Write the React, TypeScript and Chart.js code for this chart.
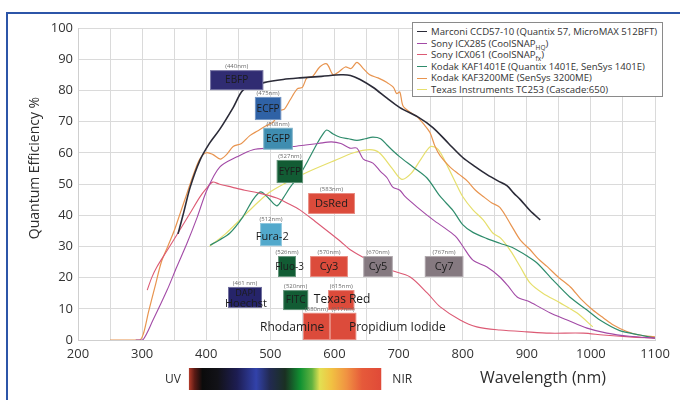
import React, { useEffect, useRef } from 'react';
import { Chart, registerables } from 'chart.js';

Chart.register(...registerables);

// ---------- data (wavelength in nm, quantum efficiency in %) ----------
const X_MIN = 200;
const X_MAX = 1100;
const Y_MIN = 0;
const Y_MAX = 100;

const MARCONI_NM = [356, 365, 375, 390, 405, 421, 442, 457, 475, 490, 520, 546, 580, 610, 625, 640, 660, 682, 702, 730, 754, 778, 800, 820, 838, 855, 869, 880, 890, 905, 921];
const MARCONI_QE = [34, 41, 49, 57.5, 63, 67.5, 74.5, 80, 81.5, 82.5, 83.5, 84, 84.5, 85, 84.8, 83.5, 81, 77.5, 74.5, 71.5, 68, 63, 58.5, 55.5, 53, 51, 49.5, 47, 45, 41.5, 38.5];

const ICX285_NM = [290, 301, 317, 339, 354, 370, 386, 401, 421, 448, 473, 500, 535, 555, 575, 595, 610, 624, 635, 645, 660, 672, 682, 691, 702, 710, 729, 754, 776, 790, 801, 816, 838, 858, 872, 885, 905, 936, 963, 994, 1025, 1060, 1100];
const ICX285_QE = [0, 0, 6.4, 16, 23.4, 31, 39.4, 48, 55.4, 58.7, 61, 61.5, 62, 62.5, 63, 63.5, 63, 61.5, 61.5, 58, 56.7, 54, 52, 49, 48, 46, 42.6, 38.5, 35.3, 33, 29.8, 25.6, 23.4, 20.2, 17, 13.8, 12.2, 8.7, 6.4, 3.8, 2.2, 1.2, 0.6];

const ICX061_NM = [308, 315, 323, 340, 355, 375, 390, 400, 410, 420, 440, 460, 484, 510, 530, 546, 570, 593, 610, 624, 645, 660, 687, 718, 745, 765, 796, 822, 858, 900, 936, 988, 1019, 1060, 1100];
const ICX061_QE = [16, 20, 23.4, 29, 34, 40.7, 45.8, 48.5, 50.6, 50, 49, 48, 47, 45.5, 43.5, 41.7, 38, 34.3, 31.5, 29, 26.5, 25, 22.4, 20.2, 15, 10.6, 6.4, 4.2, 3.2, 2.6, 2.2, 2.2, 1.6, 1, 0.6];

const KAF1401_NM = [406, 420, 437, 457, 473, 485, 497, 510, 520, 531, 546, 560, 573, 582, 588, 598, 609, 622, 635, 648, 660, 672, 682, 692, 702, 723, 744, 765, 785, 800, 816, 838, 858, 879, 900, 916, 941, 967, 994, 1014, 1045, 1077, 1100];
const KAF1401_QE = [30.4, 32, 34.3, 39.4, 45, 47.5, 45.5, 43, 45.5, 49, 53, 58, 63, 66, 67.3, 66, 65, 64.5, 64, 64.5, 65, 64.5, 62.5, 60.5, 58.7, 55.4, 52, 46, 41.5, 37, 34.5, 32.5, 31, 29.5, 27, 24.7, 19.2, 13.8, 9.6, 6.4, 3, 1.6, 0.6];

const KAF3200_NM = [250, 296, 302, 310, 320, 330, 340, 350, 360, 370, 380, 390, 400, 410, 422, 432, 442, 455, 468, 480, 492, 505, 515, 522, 531, 542, 550, 557, 566, 577, 588, 598, 607, 617, 626, 635, 645, 655, 668, 682, 692, 697, 702, 707, 718, 729, 740, 749, 757, 765, 780, 795, 807, 820, 832, 845, 858, 875, 890, 905, 918, 932, 950, 968, 985, 1003, 1020, 1035, 1055, 1075, 1100];
const KAF3200_QE = [0, 0, 2, 9, 17, 25, 30, 35, 41, 47, 53, 58, 60, 59.5, 58, 59.5, 62, 63, 65.5, 67, 68.5, 70, 73.5, 74, 77, 80.5, 81, 84, 84.5, 87.5, 88.5, 85, 86, 87.5, 87, 89, 87, 85, 84, 82.5, 81, 79, 79.5, 75, 73, 71.5, 69, 66.5, 62, 59, 55.5, 53, 51, 48, 46, 44, 42.5, 37, 32, 29, 26, 23.5, 20, 17, 13, 9.6, 7, 4.8, 2.8, 1.6, 1];

const TC253_NM = [405, 430, 455, 480, 500, 530, 560, 600, 630, 655, 670, 690, 705, 720, 735, 750, 762, 778, 790, 800, 816, 832, 847, 860, 875, 890, 905, 925, 952, 978, 1003];
const TC253_QE = [30, 34, 39, 44, 47.5, 51, 54, 57.5, 60, 61, 60, 55, 51.5, 53.5, 58, 62, 61, 55, 50, 46, 41.7, 38.5, 34.3, 32.5, 28.5, 23.4, 18.3, 15, 11.9, 8.7, 4.2];

const SERIES_NAMES = [
  'Marconi CCD57-10 (Quantix 57, MicroMAX 512BFT)',
  'Sony ICX285 (CoolSNAP_HQ)',
  'Sony ICX061 (CoolSNAP_fx)',
  'Kodak KAF1401E (Quantix 1401E, SenSys 1401E)',
  'Kodak KAF3200ME (SenSys 3200ME)',
  'Texas Instruments TC253 (Cascade:650)',
];

// fluorophore annotation labels (emission wavelengths)
const FLUOR_NAMES = ['EBFP', 'ECFP', 'EGFP', 'EYFP', 'DsRed', 'Fura-2', 'Fluo-3', 'Cy3', 'Cy5', 'Cy7', 'DAPI', 'FITC', 'Texas Red', 'Rhodamine', 'Propidium Iodide'];
const FLUOR_TAGS = ['(440nm)', '(475nm)', '(508nm)', '(527nm)', '(583nm)', '(512nm)', '(526nm)', '(570nm)', '(670nm)', '(767nm)', '(461 nm)', '(520nm)', '(615nm)', '(580nm)', '(617nm)'];

// ---------- styling / annotation placement (data-space) ----------
const SERIES_STYLE = [
  { color: '#2b2b38', width: 1.6 },
  { color: '#a24aa6', width: 1.1 },
  { color: '#dc5a74', width: 1.1 },
  { color: '#2f8c6c', width: 1.2 },
  { color: '#e8944f', width: 1.2 },
  { color: '#e6df6c', width: 1.2 },
];

// box extents in data units: [nm0, nm1, qe0, qe1], colour, text anchor [nm, qe], font size
const FLUOR_LAYOUT = [
  { box: [406, 489, 80.1, 86.5], color: '#302c72', text: null, size: 10 },
  { box: [476, 517, 70.5, 77.9], color: '#2f62a6', text: null, size: 10 },
  { box: [489, 535, 61, 68], color: '#3f8db0', text: null, size: 10 },
  { box: [510, 551, 50.3, 57.7], color: '#125c34', text: null, size: 10 },
  { box: [559, 632, 40.4, 47.1], color: '#dc4b3b', text: null, size: 11 },
  { box: [484, 518, 30.1, 37.5], color: '#52a9cc', text: [503, 33.3], size: 11 },
  { box: [512, 540, 20.2, 26.9], color: '#125c34', text: [530, 23.6], size: 10 },
  { box: [562, 621, 20.2, 26.9], color: '#dc4b3b', text: null, size: 11 },
  { box: [645, 691, 20.2, 26.9], color: '#857980', text: null, size: 11 },
  { box: [741, 801, 20.2, 26.9], color: '#857980', text: null, size: 11 },
  { box: [434, 487, 10.3, 17], color: '#26246a', text: [461, 15.2], size: 9 },
  { box: [520, 559, 9.6, 16], color: '#125c34', text: null, size: 10 },
  { box: [590, 631, 9.6, 16], color: '#dc4b3b', text: [612, 13.1], size: 12 },
  { box: [551, 593, 0, 8.7], color: '#dc4b3b', text: [534, 4.2], size: 12 },
  { box: [593, 634, 0, 8.7], color: '#dc4b3b', text: [698, 4.2], size: 12 },
];
const EXTRA_TEXT = [{ label: 'Hoechst', at: [462, 11.5], size: 11 }];

const SPECTRUM_RANGE = [373, 673];
const SPECTRUM_STOPS: [number, string][] = [
  [0, '#b43c2a'], [0.03, '#5a1a14'], [0.07, '#0b0b0b'], [0.15, '#121218'], [0.25, '#1d1d52'],
  [0.35, '#3242aa'], [0.42, '#222a52'], [0.5, '#1a3022'], [0.58, '#119232'], [0.64, '#62b240'],
  [0.68, '#e2e052'], [0.74, '#f1c242'], [0.82, '#f09242'], [0.9, '#e65a3a'], [1, '#e04a38'],
];

const FONT = "'Open Sans', 'DejaVu Sans', sans-serif";

function zip(xs: number[], ys: number[]) {
  const n = Math.min(xs.length, ys.length);
  const out: { x: number; y: number }[] = [];
  for (let i = 0; i < n; i++) out.push({ x: xs[i], y: ys[i] });
  return out;
}

const decorPlugin = {
  id: 'decor',
  beforeDraw(chart: any) {
    const { ctx, width, height } = chart;
    ctx.save();
    ctx.fillStyle = '#ffffff';
    ctx.fillRect(0, 0, width, height);
    ctx.strokeStyle = '#2c55a8';
    ctx.lineWidth = 2;
    ctx.beginPath();
    ctx.moveTo(7, height);
    ctx.lineTo(7, 13);
    ctx.lineTo(width, 13);
    ctx.stroke();
    ctx.restore();
  },
  afterDatasetsDraw(chart: any) {
    const { ctx } = chart;
    const xs = chart.scales.x;
    const ys = chart.scales.y;
    ctx.save();
    FLUOR_LAYOUT.forEach((f, i) => {
      const [n0, n1, q0, q1] = f.box;
      const x0 = xs.getPixelForValue(n0);
      const x1 = xs.getPixelForValue(n1);
      const yT = ys.getPixelForValue(q1);
      const yB = ys.getPixelForValue(q0);
      ctx.fillStyle = f.color;
      ctx.fillRect(x0, yT, x1 - x0, yB - yT);
      ctx.strokeStyle = 'rgba(255,255,255,0.35)';
      ctx.lineWidth = 1;
      ctx.strokeRect(x0 + 0.5, yT + 0.5, x1 - x0 - 1, yB - yT - 1);
      ctx.fillStyle = '#6a6a6a';
      ctx.font = `6px ${FONT}`;
      ctx.textAlign = 'center';
      ctx.textBaseline = 'bottom';
      ctx.fillText(FLUOR_TAGS[i], (x0 + x1) / 2, yT - 1);
      const tx = f.text ? xs.getPixelForValue(f.text[0]) : (x0 + x1) / 2;
      const ty = f.text ? ys.getPixelForValue(f.text[1]) : (yT + yB) / 2;
      ctx.fillStyle = '#1c1c1c';
      ctx.font = `${f.size}px ${FONT}`;
      ctx.textBaseline = 'middle';
      ctx.fillText(FLUOR_NAMES[i], tx, ty + 0.5);
    });
    EXTRA_TEXT.forEach((t) => {
      ctx.fillStyle = '#1c1c1c';
      ctx.font = `${t.size}px ${FONT}`;
      ctx.textAlign = 'center';
      ctx.textBaseline = 'middle';
      ctx.fillText(t.label, xs.getPixelForValue(t.at[0]), ys.getPixelForValue(t.at[1]));
    });
    ctx.restore();
  },
  afterDraw(chart: any) {
    const { ctx } = chart;
    const xs = chart.scales.x;
    ctx.save();
    // y title
    ctx.translate(35, 168);
    ctx.rotate(-Math.PI / 2);
    ctx.fillStyle = '#2e2e2e';
    ctx.font = `14px ${FONT}`;
    ctx.textAlign = 'center';
    ctx.textBaseline = 'middle';
    ctx.fillText('Quantum Efficiency %', 0, 0);
    ctx.restore();

    ctx.save();
    const bx0 = xs.getPixelForValue(SPECTRUM_RANGE[0]);
    const bx1 = xs.getPixelForValue(SPECTRUM_RANGE[1]);
    const g = ctx.createLinearGradient(bx0, 0, bx1, 0);
    SPECTRUM_STOPS.forEach(([p, c]) => g.addColorStop(p, c));
    ctx.fillStyle = g;
    ctx.fillRect(bx0, 368, bx1 - bx0, 22);
    ctx.fillStyle = '#2e2e2e';
    ctx.font = `12px ${FONT}`;
    ctx.textAlign = 'center';
    ctx.textBaseline = 'middle';
    ctx.fillText('UV', bx0 - 16, 380);
    ctx.fillText('NIR', bx1 + 21, 380);
    ctx.font = `16px ${FONT}`;
    ctx.fillText('Wavelength (nm)', 543, 378);
    ctx.restore();
  },
};

function Legend() {
  const sub = (name: string) => {
    const m = name.match(/^(.*)_([A-Za-z]+)(\).*)$/);
    if (!m) return name;
    return (
      <>
        {m[1]}
        <sub style={{ fontSize: '6.5px', verticalAlign: 'sub', lineHeight: 0 }}>{m[2]}</sub>
        {m[3]}
      </>
    );
  };
  return (
    <div
      style={{
        position: 'absolute',
        left: 412,
        top: 22,
        width: 251,
        height: 75,
        border: '1px solid #8a8a8a',
        background: '#ffffff',
        boxSizing: 'border-box',
        paddingTop: 3,
        fontFamily: FONT,
        fontSize: '9.6px',
        color: '#333',
        lineHeight: '11.6px',
        overflow: 'hidden',
      }}
    >
      {SERIES_NAMES.map((name, i) => (
        <div key={i} style={{ display: 'flex', alignItems: 'center', height: 11.6, whiteSpace: 'nowrap' }}>
          <span
            style={{
              display: 'inline-block',
              width: 10,
              height: 0,
              borderTop: `1.5px solid ${SERIES_STYLE[i].color}`,
              marginLeft: 4,
              marginRight: 4,
              flex: 'none',
            }}
          />
          <span>{sub(name)}</span>
        </div>
      ))}
    </div>
  );
}

export default function App() {
  const ref = useRef<HTMLCanvasElement>(null);
  useEffect(() => {
    if (!ref.current) return;
    const series = [
      zip(MARCONI_NM, MARCONI_QE),
      zip(ICX285_NM, ICX285_QE),
      zip(ICX061_NM, ICX061_QE),
      zip(KAF1401_NM, KAF1401_QE),
      zip(KAF3200_NM, KAF3200_QE),
      zip(TC253_NM, TC253_QE),
    ];
    const chart = new Chart(ref.current, {
      type: 'line',
      data: {
        datasets: series.map((d, i) => ({
          label: SERIES_NAMES[i],
          data: d,
          borderColor: SERIES_STYLE[i].color,
          borderWidth: SERIES_STYLE[i].width,
          pointRadius: 0,
          tension: 0.3,
          fill: false,
        })),
      },
      options: {
        animation: false,
        responsive: false,
        maintainAspectRatio: false,
        layout: { padding: { left: 0, top: 28, right: 25, bottom: 0 } },
        plugins: { legend: { display: false }, tooltip: { enabled: false } },
        scales: {
          x: {
            type: 'linear',
            min: X_MIN,
            max: X_MAX,
            afterFit: (s: any) => {
              s.height = 60;
            },
            ticks: {
              stepSize: 50,
              autoSkip: false,
              maxRotation: 0,
              padding: 6,
              color: '#333',
              font: { family: FONT, size: 13 },
              callback: (v: any) => (Number(v) % 100 === 0 ? String(v) : ''),
            },
            grid: { color: '#dadada', lineWidth: 1, drawTicks: false },
            border: { color: '#cfcfcf' },
          },
          y: {
            min: Y_MIN,
            max: Y_MAX,
            afterFit: (s: any) => {
              s.width = 78;
            },
            ticks: {
              stepSize: 10,
              padding: 5,
              color: '#333',
              font: { family: FONT, size: 13 },
            },
            grid: { color: '#dadada', lineWidth: 1, drawTicks: false },
            border: { color: '#cfcfcf' },
          },
        },
      },
      plugins: [decorPlugin],
    });
    return () => chart.destroy();
  }, []);

  return (
    <div style={{ position: 'fixed', left: 0, top: 0, width: 680, height: 400, background: '#fff' }}>
      <canvas ref={ref} width={680} height={400} style={{ width: 680, height: 400, display: 'block' }} />
      <Legend />
    </div>
  );
}
